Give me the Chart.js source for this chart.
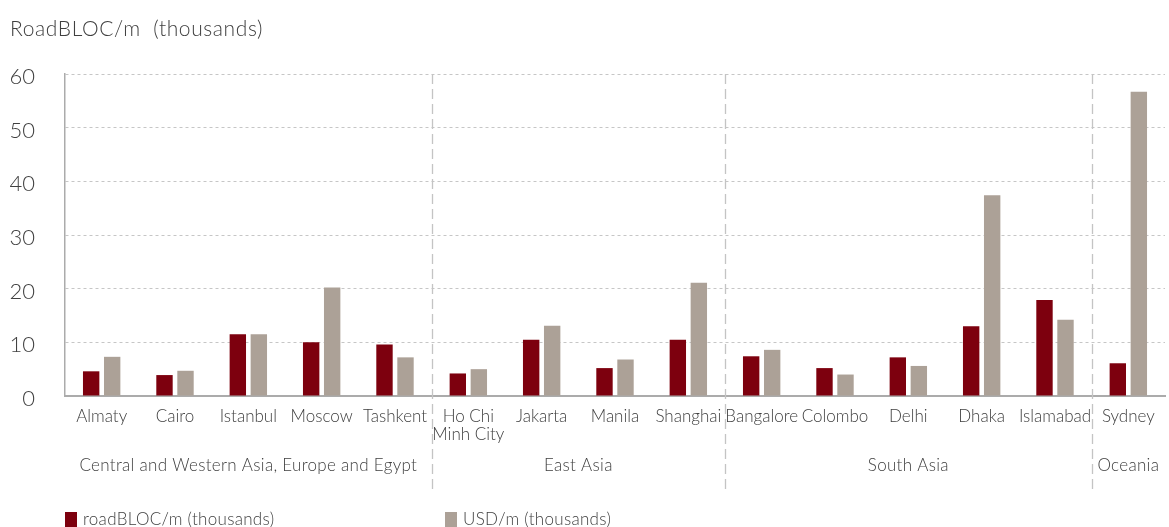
<!DOCTYPE html>
<html>
<head>
<meta charset="utf-8">
<script src="https://cdn.jsdelivr.net/npm/chart.js@4.4.1/dist/chart.umd.min.js"></script>
<style>
  html, body { margin: 0; padding: 0; background: #fff; }
  #wrap { width: 1169px; height: 527px; position: relative; }
</style>
</head>
<body>
<div id="wrap"><canvas id="chart"></canvas></div>
<script>
const cities = ['Almaty', 'Cairo', 'Istanbul', 'Moscow', 'Tashkent', ['Ho Chi', 'Minh City'], 'Jakarta', 'Manila', 'Shanghai',
    'Bangalore', 'Colombo', 'Delhi', 'Dhaka', 'Islamabad', 'Sydney'];
const roadblocValues = [4.6, 3.9, 11.5, 10.0, 9.6, 4.2, 10.5, 5.2, 10.5, 7.4, 5.2, 7.2, 13.0, 17.9, 6.1];
const usdValues = [7.3, 4.7, 11.5, 20.2, 7.2, 5.0, 13.1, 6.8, 21.1, 8.6, 4.0, 5.6, 37.4, 14.2, 56.7];
const regions = ['Central and Western Asia, Europe and Egypt', 'East Asia', 'South Asia', 'Oceania'];
const regionSizes = [5, 4, 5, 1];
const yTicks = [0, 10, 20, 30, 40, 50, 60];
const yTitle = 'RoadBLOC/m  (thousands)';

const FONT = 'Lato, "Open Sans", sans-serif';
const TEXT = '#404040';

// group labels, dashed separators, title and legend
const extras = {
    id: 'extras',
    afterDraw(chart) {
        const ctx = chart.ctx;
        const x = chart.scales.x;
        const area = chart.chartArea;
        ctx.save();
        ctx.fillStyle = TEXT;
        ctx.font = '300 21px ' + FONT;
        ctx.textBaseline = 'middle';
        ctx.textAlign = 'left';
        ctx.letterSpacing = '0.6px';
        ctx.fillText(yTitle, 10, 29);
        ctx.letterSpacing = '0.3px';

        let start = 0;
        regions.forEach((name, i) => {
            const end = start + regionSizes[i];
            const left = start === 0 ? area.left : (x.getPixelForValue(start - 1) + x.getPixelForValue(start)) / 2;
            const right = end === cities.length ? area.right : (x.getPixelForValue(end - 1) + x.getPixelForValue(end)) / 2;
            ctx.font = '300 17px ' + FONT;
            ctx.textAlign = 'center';
            ctx.fillStyle = TEXT;
            ctx.fillText(name, (left + right) / 2, 466);
            if (end < cities.length) {
                ctx.strokeStyle = '#c4c4c4';
                ctx.lineWidth = 1.3;
                ctx.setLineDash([10, 5]);
                ctx.beginPath();
                ctx.moveTo(Math.round(right) + 0.5, area.top);
                ctx.lineTo(Math.round(right) + 0.5, 490);
                ctx.stroke();
            }
            start = end;
        });

        ctx.setLineDash([]);
        const legendX = [65, 445];
        chart.data.datasets.forEach((ds, i) => {
            ctx.fillStyle = ds.backgroundColor;
            ctx.fillRect(legendX[i], 512, 12, 16);
            ctx.fillStyle = TEXT;
            ctx.font = '300 17px ' + FONT;
            ctx.textAlign = 'left';
            ctx.fillText(ds.label, legendX[i] + 18, 520);
        });
        ctx.restore();
    }
};

new Chart(document.getElementById('chart'), {
    type: 'bar',
    data: {
        labels: cities,
        datasets: [
            {
                label: 'roadBLOC/m (thousands)',
                data: roadblocValues,
                backgroundColor: '#7d000e',
                borderWidth: 0
            },
            {
                label: 'USD/m (thousands)',
                data: usdValues,
                backgroundColor: '#aca197',
                borderWidth: 0
            }
        ]
    },
    options: {
        responsive: true,
        maintainAspectRatio: false,
        animation: false,
        categoryPercentage: 0.573,
        barPercentage: 0.78,
        layout: { padding: { top: 74, right: 4, left: 0, bottom: 0 } },
        plugins: {
            legend: { display: false },
            tooltip: { enabled: false }
        },
        scales: {
            x: {
                grid: { display: false },
                border: { display: true, color: '#ababab', width: 2 },
                ticks: {
                    color: TEXT,
                    font: { family: FONT, size: 17, weight: 300, lineHeight: 1.05 },
                    autoSkip: false,
                    maxRotation: 0,
                    minRotation: 0,
                    padding: 4
                },
                afterFit: s => { s.height = 131; }
            },
            y: {
                min: 0,
                max: 60,
                afterBuildTicks: s => { s.ticks = yTicks.map(v => ({ value: v })); },
                grid: { color: '#c6c6c6', lineWidth: 1, drawTicks: false },
                border: { display: true, color: '#ababab', width: 1.5, dash: [3, 3] },
                ticks: {
                    color: TEXT,
                    font: { family: FONT, size: 22, weight: 300 },
                    padding: 30,
                    labelOffset: 3
                },
                afterFit: s => { s.width = 65; }
            }
        }
    },
    plugins: [extras]
});
</script>
</body>
</html>
